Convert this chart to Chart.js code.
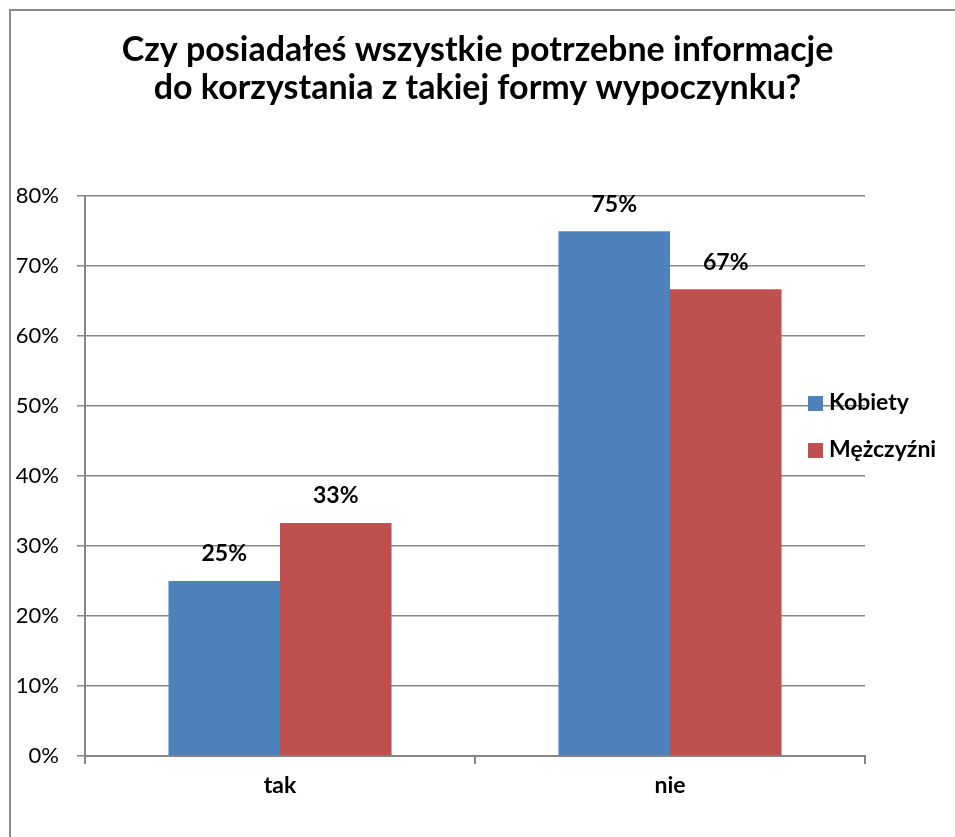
<!DOCTYPE html>
<html>
<head>
<meta charset="utf-8">
<script src="https://cdn.jsdelivr.net/npm/chart.js@4.4.1/dist/chart.umd.min.js"></script>
<style>
  html, body { margin: 0; padding: 0; background: #ffffff; }
  #wrap { width: 955px; height: 837px; }
</style>
</head>
<body>
<div id="wrap"><canvas id="myChart" width="955" height="837"></canvas></div>
<script>
const titleLines = ["Czy posiadałeś wszystkie potrzebne informacje", "do korzystania z takiej formy wypoczynku?"];
const categories = ["tak", "nie"];
const seriesNames = ["Kobiety", "Mężczyźni"];
const kobiety = [0.25, 0.75];
const mezczyzni = [0.333, 0.667];
const seriesColors = ["#4F81BD", "#C0504D"];

const FONT = "Lato, 'Open Sans', sans-serif";
const gridColor = "#868686";

// white background + outer frame
const framePlugin = {
    id: "frame",
    beforeDraw(chart) {
        const c = chart.ctx;
        c.save();
        c.fillStyle = "#ffffff";
        c.fillRect(0, 0, chart.width, chart.height);
        c.strokeStyle = "#8a8a8a";
        c.lineWidth = 2;
        c.strokeRect(10, 10, chart.width + 20, chart.height + 20);
        c.restore();
    },
};

// value labels above bars
const valueLabels = {
    id: "valueLabels",
    afterDatasetsDraw(chart) {
        const c = chart.ctx;
        c.save();
        c.font = "bold 23px " + FONT;
        c.fillStyle = "#000000";
        c.textAlign = "center";
        c.textBaseline = "middle";
        chart.data.datasets.forEach((ds, i) => {
            chart.getDatasetMeta(i).data.forEach((bar, j) => {
                c.fillText(Math.round(ds.data[j] * 100) + "%", bar.x, bar.y - 27);
            });
        });
        c.restore();
    },
};

// legend on the right, overlapping the plot like the original
const sideLegend = {
    id: "sideLegend",
    afterDraw(chart) {
        const c = chart.ctx;
        c.save();
        c.font = "bold 23px " + FONT;
        c.textBaseline = "middle";
        c.textAlign = "left";
        chart.data.datasets.forEach((ds, i) => {
            const y = 403 + i * 47;
            c.fillStyle = ds.backgroundColor;
            c.fillRect(808, y - 7, 15, 15);
            c.fillStyle = "#000000";
            c.fillText(ds.label, 829, y);
        });
        c.restore();
    },
};

const ctx = document.getElementById("myChart").getContext("2d");
const myChart = new Chart(ctx, {
    type: "bar",
    data: {
        labels: categories,
        datasets: [
            {
                label: seriesNames[0],
                data: kobiety,
                backgroundColor: seriesColors[0],
                categoryPercentage: 0.572,
                barPercentage: 1.0,
            },
            {
                label: seriesNames[1],
                data: mezczyzni,
                backgroundColor: seriesColors[1],
                categoryPercentage: 0.572,
                barPercentage: 1.0,
            },
        ],
    },
    options: {
        responsive: false,
        animation: false,
        devicePixelRatio: 1,
        layout: {
            padding: { left: 0, right: 0, top: 0, bottom: 0 },
        },
        plugins: {
            legend: { display: false },
            tooltip: { enabled: false },
            title: {
                display: true,
                text: titleLines,
                color: "#000000",
                font: { family: FONT, size: 34, weight: "bold", lineHeight: 1.12 },
                padding: { top: 31, bottom: 89 },
            },
        },
        scales: {
            x: {
                grid: {
                    display: true,
                    drawOnChartArea: false,
                    drawTicks: true,
                    tickLength: 8,
                    color: gridColor,
                    lineWidth: 2,
                    offset: true,
                },
                border: { display: true, color: gridColor, width: 2 },
                ticks: {
                    color: "#000000",
                    padding: 8,
                    font: { family: FONT, size: 23, weight: "bold" },
                },
                afterFit(scale) {
                    scale.height = 81;
                },
            },
            y: {
                min: 0,
                max: 0.8,
                grid: {
                    color: gridColor,
                    lineWidth: 1.5,
                    tickLength: 8,
                },
                border: { display: true, color: gridColor, width: 2 },
                ticks: {
                    stepSize: 0.1,
                    color: "#000000",
                    padding: 18,
                    font: { family: FONT, size: 22 },
                    callback: (v) => Math.round(v * 100) + "%",
                },
                afterFit(scale) {
                    scale.width = 85;
                },
            },
            // empty right-hand axis that reserves room for the legend
            yRight: {
                position: "right",
                min: 0,
                max: 0.8,
                grid: { display: false, drawOnChartArea: false },
                border: { display: false },
                ticks: { display: false },
                afterFit(scale) {
                    scale.width = 90;
                },
            },
        },
    },
    plugins: [framePlugin, valueLabels, sideLegend],
});
</script>
</body>
</html>
